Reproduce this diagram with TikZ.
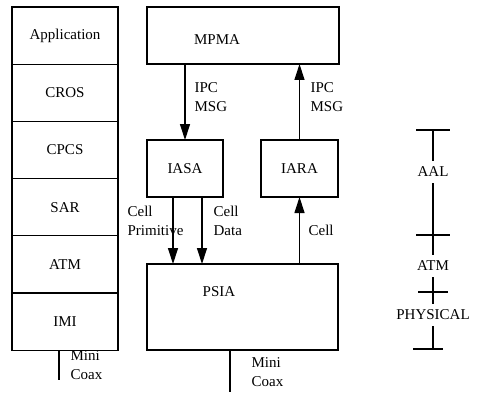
\documentclass[tikz,border=0pt]{standalone}
\usepackage{fontspec}
\setmainfont{Liberation Serif}
\usetikzlibrary{positioning, arrows.meta}

\begin{document}
\begin{tikzpicture}[x=1pt, y=-1pt, >={Triangle[length=16pt,width=10pt]}, line width=1.2pt,
    font=\fontsize{15}{18.5}\selectfont,
    layer/.style={draw, minimum width=106pt, minimum height=57.2pt, inner sep=0pt, outer sep=0pt},
    block/.style={draw, inner sep=0pt, outer sep=0pt},
    lbl/.style={align=left, anchor=west, inner sep=0pt},
    scalelbl/.style={inner sep=5.5pt}]
      \useasboundingbox (0,0) rectangle (489,393);

      % protocol stack
      \node[layer] (app) at (65,35.6) {Application};
      \node[layer, below=0pt of app] (cros) {CROS};
      \node[layer, below=0pt of cros] (cpcs) {CPCS};
      \node[layer, below=0pt of cpcs] (sar) {SAR};
      \node[layer, below=0pt of sar] (atm) {ATM};
      \node[layer, below=0pt of atm] (imi) {IMI};
      \coordinate (coaxl) at (59,380);
      \draw (imi.south -| coaxl) -- (coaxl);
      \node[lbl] (coaxltext) at (70,365) {Mini\\Coax};

      % modules
      \node[block, minimum width=192pt, minimum height=57pt] (mpma) at (243,35.5) {};
      \node (mpmatext) at (217,40) {MPMA};
      \node[block, minimum width=76pt, minimum height=57pt] (iasa) at (185,168.5) {IASA};
      \node[block, minimum width=77pt, minimum height=57pt] (iara) at (299.5,168.5) {IARA};
      \node[block, minimum width=191pt, minimum height=86pt] (psia) at (242.5,307) {};
      \node (psiatext) at (219,292) {PSIA};

      \draw[->] (mpma.south -| iasa) -- (iasa.north);
      \draw[->] (iara.north) -- (mpma.south -| iara);
      \draw[->] ([xshift=-12pt]iasa.south) -- ([xshift=-12pt]iasa.south |- psia.north);
      \draw[->] ([xshift=17pt]iasa.south) -- ([xshift=17pt]iasa.south |- psia.north);
      \draw[->] (psia.north -| iara) -- (iara.south);

      \node[lbl] (ipcdown) at (194,97) {IPC\\MSG};
      \node[lbl] (ipcup) at (310,97) {IPC\\MSG};
      \node[lbl] (cellprim) at (127,221) {Cell\\Primitive};
      \node[lbl] (celldata) at (213,221) {Cell\\Data};
      \node[lbl] (cellup) at (308,230) {Cell};

      \coordinate (coaxr) at (230,392);
      \draw (psia.south -| coaxr) -- (coaxr);
      \node[lbl] (coaxrtext) at (251,372) {Mini\\Coax};

      % layer scale
      \coordinate (sctop) at (433,130);
      \coordinate (cross1) at (433,235);
      \coordinate (cross2) at (433,292);
      \coordinate (scbot) at (433,349);
      \node[scalelbl] (aal) at (433,172) {AAL};
      \node[scalelbl] (atmscale) at (433,266) {ATM};
      \node[scalelbl] (phys) at (433,315) {PHYSICAL};
      \draw (sctop) -- (aal);
      \draw (aal) -- (atmscale);
      \draw (atmscale) -- (phys);
      \draw (phys) -- (scbot);
      \draw ([xshift=-17pt]sctop) -- ([xshift=17pt]sctop);
      \draw ([xshift=-17pt]cross1) -- ([xshift=17pt]cross1);
      \draw ([xshift=-15pt]cross2) -- ([xshift=15pt]cross2);
      \draw ([xshift=-20pt]scbot) -- ([xshift=10pt]scbot);
    \end{tikzpicture}
\end{document}
